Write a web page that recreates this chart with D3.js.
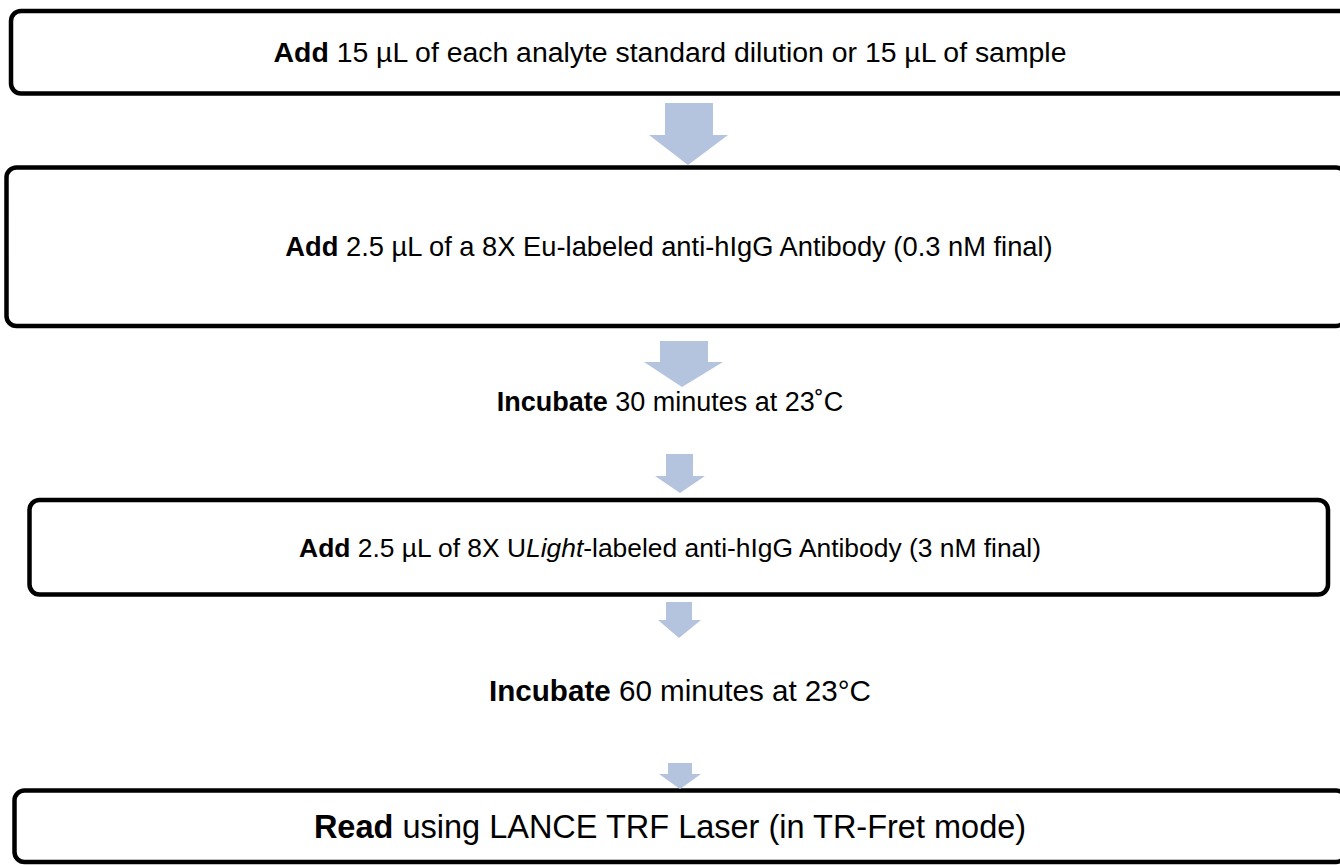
<!DOCTYPE html>
<html>
<head>
<meta charset="utf-8">
<script src="https://cdn.jsdelivr.net/npm/d3@7"></script>
<style>
  body { margin: 0; background: #fff; }
  text { font-family: "Liberation Sans", Arial, sans-serif; }
</style>
</head>
<body>
<div id="chart"></div>
<script>
// Etapes du protocole (texte seulement)
const stepVerbs = ["Add", "Add", "Incubate", "Add", "Incubate", "Read"];
const stepTexts = [
    [" 15 µL of each analyte standard dilution or 15 µL of sample"],
    [" 2.5 µL of a 8X Eu-labeled anti-hIgG Antibody (0.3 nM final)"],
    [" 30 minutes at 23˚C"],
    [" 2.5 µL of 8X U", "Light", "-labeled anti-hIgG Antibody (3 nM final)"],
    [" 60 minutes at 23°C"],
    [" using LANCE TRF Laser (in TR-Fret mode)"]
];

// Mise en page (pixels)
const boxes = [
    { x0: 11, x1: 1352, y0: 11, y1: 93.5 },
    { x0: 6.5, x1: 1346, y0: 167.5, y1: 326 },
    { x0: 29.5, x1: 1328, y0: 500, y1: 594.5 },
    { x0: 14.5, x1: 1346, y0: 790.5, y1: 862 }
];
const textPos = [
    { x: 670, y: 62, size: 28.4 }, { x: 669, y: 256, size: 27.3 }, { x: 670, y: 411, size: 27 },
    { x: 670, y: 557, size: 26.4 }, { x: 680, y: 701, size: 29.6 }, { x: 670, y: 838, size: 32.5 }
];
// flèches : fût (sx0, sx1), haut, début de la pointe, pointe (hx0, hx1), sommet
const arrows = [
    { sx0: 665, sx1: 713, top: 103, hy: 135, hx0: 649, hx1: 728, tip: 165, tx: 688 },
    { sx0: 660, sx1: 708, top: 341, hy: 362, hx0: 644, hx1: 723, tip: 387, tx: 682 },
    { sx0: 666, sx1: 693, top: 454, hy: 476, hx0: 655, hx1: 705, tip: 493, tx: 680 },
    { sx0: 666, sx1: 692, top: 602, hy: 620, hx0: 658, hx1: 701, tip: 638, tx: 679 },
    { sx0: 668, sx1: 692, top: 763, hy: 774, hx0: 659, hx1: 701, tip: 789, tx: 680 }
];

const width = 1340, height = 865;

const svg = d3.select("#chart")
    .append("svg")
    .attr("width", width)
    .attr("height", height);

// Boîtes
svg.selectAll("rect.box")
    .data(boxes)
    .enter()
    .append("rect")
    .attr("class", "box")
    .attr("x", d => d.x0)
    .attr("y", d => d.y0)
    .attr("width", d => d.x1 - d.x0)
    .attr("height", d => d.y1 - d.y0)
    .attr("rx", 10)
    .attr("fill", "#fff")
    .attr("stroke", "#000")
    .attr("stroke-width", 4.5);

// Flèches
svg.selectAll("path.arrow")
    .data(arrows)
    .enter()
    .append("path")
    .attr("class", "arrow")
    .attr("d", d => {
        const p = d3.path();
        p.moveTo(d.sx0, d.top);
        p.lineTo(d.sx1, d.top);
        p.lineTo(d.sx1, d.hy);
        p.lineTo(d.hx1, d.hy);
        p.lineTo(d.tx, d.tip);
        p.lineTo(d.hx0, d.hy);
        p.lineTo(d.sx0, d.hy);
        p.closePath();
        return p.toString();
    })
    .attr("fill", "#b4c4df");

// Textes
const labels = svg.selectAll("text.step")
    .data(stepVerbs.map((v, i) => ({ verb: v, parts: stepTexts[i], pos: textPos[i] })))
    .enter()
    .append("text")
    .attr("class", "step")
    .attr("x", d => d.pos.x)
    .attr("y", d => d.pos.y)
    .attr("text-anchor", "middle")
    .attr("font-size", d => d.pos.size)
    .attr("fill", "#000")
    .style("white-space", "pre");

labels.append("tspan")
    .attr("font-weight", "bold")
    .text(d => d.verb);

labels.each(function (d) {
    d.parts.forEach((t, j) => {
        d3.select(this).append("tspan")
            .attr("font-style", j === 1 ? "italic" : null)
            .text(t);
    });
});
</script>
</body>
</html>
